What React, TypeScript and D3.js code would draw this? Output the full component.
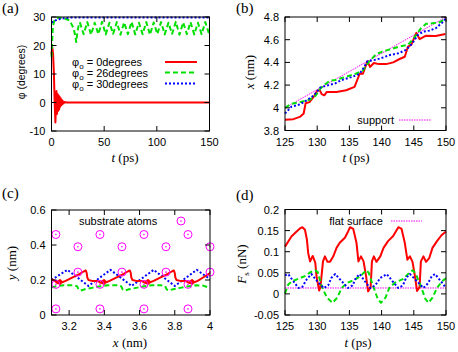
import React from 'react'
import * as d3 from 'd3'

type Pt = [number, number]

// ---- panel (a): tilt angle vs time
const aTicksX = [0, 50, 100, 150]
const aTicksY = [-10, 0, 10, 20, 30]
const aPhi0: Pt[] = [
  [0, 17], [0.7, 19.5], [1.5, 17], [2.3, 10], [3, 0], [3.7, -7], [4.2, -2], [4.7, 4], [5.2, -4],
  [5.7, 3], [6.2, -3], [6.7, 2.5], [7.2, -2.5], [7.7, 2], [8.2, -1.5], [8.7, 1.5], [9.2, -1],
  [9.7, 1], [10.2, -0.6], [10.7, 0.5], [11.5, -0.3], [12.5, 0.2], [14, 0], [150, 0]
]
const aPhi26: Pt[] = [
  [0, 16], [0.7, 22], [1.3, 26.5], [2.5, 28.5], [3.5, 29.2], [6, 29.8], [10, 29.6], [14, 29.3],
  [17, 28.8], [19, 27.5], [21, 26], [22.5, 23.5], [23.5, 21.2], [24.5, 24.5], [26, 27.5], [27, 28],
  [30.5, 24], [34, 28.2], [37.5, 23.8], [41, 28], [44.5, 24], [48, 28.3], [51.5, 23.9], [55, 28],
  [58.5, 24.1], [62, 28.2], [65.5, 23.8], [69, 28.1], [72.5, 24], [76, 28.3], [79.5, 23.9], [83, 28],
  [86.5, 24], [90, 28.2], [93.5, 23.8], [97, 28.1], [100.5, 24], [104, 28.2], [107.5, 23.9], [111, 28],
  [114.5, 24.1], [118, 28.3], [121.5, 23.8], [125, 28.1], [128.5, 24], [132, 28.2], [135.5, 23.9],
  [139, 28], [142.5, 24], [146, 28.2], [149.5, 24.2], [150, 25]
]
const aPhi30: Pt[] = [
  [0, 28], [1, 28.3], [3, 28.7], [5, 29], [8, 29.3], [12, 29.6], [18, 29.8], [150, 29.8]
]

// ---- panel (b): tip position vs time
const bTicksX = [125, 130, 135, 140, 145, 150]
const bTicksY = [3.8, 4, 4.2, 4.4, 4.6, 4.8]
const bSupport: Pt[] = [[125, 4.0], [150, 4.8]]
const bPhi0: Pt[] = [
  [125, 3.895], [126.3, 3.9], [127.3, 3.92], [127.9, 3.95], [128.2, 4.04], [128.8, 4.05],
  [129.5, 4.1], [130, 4.15], [130.4, 4.155], [130.7, 4.12], [131.1, 4.11], [131.5, 4.14],
  [133, 4.14], [134.5, 4.155], [135.8, 4.185], [136.6, 4.3], [137.1, 4.3], [137.8, 4.41],
  [138.2, 4.36], [138.8, 4.395], [139.6, 4.385], [140.7, 4.385], [141.8, 4.4], [142.8, 4.43],
  [143.6, 4.45], [144.1, 4.54], [144.6, 4.555], [145.4, 4.66], [145.9, 4.605], [146.4, 4.62],
  [146.9, 4.635], [148.4, 4.632], [149.9, 4.65]
]
const bPhi26: Pt[] = [
  [125, 4.0], [126, 4.035], [127.3, 4.05], [128.8, 4.07], [129.8, 4.11], [130.5, 4.17],
  [131.3, 4.21], [132, 4.24], [132.8, 4.245], [134.3, 4.27], [136, 4.3], [137.1, 4.33],
  [138.1, 4.41], [139.1, 4.47], [140.1, 4.495], [141.3, 4.515], [142.8, 4.54], [144.1, 4.555],
  [145.1, 4.62], [146.1, 4.7], [146.9, 4.74], [147.9, 4.745], [148.9, 4.75], [149.9, 4.785]
]
const bPhi30: Pt[] = [
  [125, 3.95], [126, 4.01], [127.3, 4.03], [128.5, 4.07], [129.5, 4.11], [130.5, 4.18],
  [131.8, 4.2], [132.8, 4.215], [133.8, 4.245], [135.3, 4.27], [136.6, 4.3], [137.3, 4.36],
  [137.8, 4.41], [138.8, 4.42], [139.8, 4.435], [141.3, 4.465], [142.6, 4.48], [143.8, 4.51],
  [144.8, 4.57], [145.6, 4.64], [146.4, 4.67], [147.4, 4.68], [148.4, 4.7], [149.4, 4.75], [150, 4.79]
]

// ---- panel (c): tip trajectory over the substrate
const cTicksX = [3.2, 3.4, 3.6, 3.8, 4]
const cTicksY = [0, 0.2, 0.4, 0.6]
const cAtoms: Pt[] = [
  [3.125, 0.035], [3.375, 0.035], [3.625, 0.035], [3.875, 0.035],
  [3.125, 0.175], [3.375, 0.175], [3.625, 0.175], [3.875, 0.175],
  [3.25, 0.245], [3.5, 0.245], [3.75, 0.245], [4.0, 0.245],
  [3.25, 0.39], [3.5, 0.39], [3.75, 0.39], [4.0, 0.39],
  [3.125, 0.46], [3.375, 0.46], [3.625, 0.46], [3.875, 0.46]
]
const cPhi0: Pt[] = [
  [3.1, 0.205], [3.12, 0.195], [3.135, 0.182], [3.15, 0.178], [3.158, 0.19], [3.148, 0.2], [3.135, 0.19],
  [3.15, 0.183], [3.18, 0.195], [3.22, 0.215], [3.26, 0.235], [3.285, 0.25], [3.295, 0.254], [3.3, 0.24],
  [3.303, 0.215], [3.31, 0.2], [3.33, 0.195], [3.36, 0.195],
  [3.385, 0.182], [3.4, 0.178], [3.408, 0.19], [3.398, 0.2], [3.385, 0.19], [3.4, 0.183], [3.43, 0.195],
  [3.47, 0.215], [3.51, 0.235], [3.535, 0.25], [3.545, 0.254], [3.55, 0.24], [3.553, 0.215], [3.56, 0.2],
  [3.58, 0.195], [3.61, 0.195],
  [3.635, 0.182], [3.65, 0.178], [3.658, 0.19], [3.648, 0.2], [3.635, 0.19], [3.65, 0.183], [3.68, 0.195],
  [3.72, 0.215], [3.76, 0.235], [3.785, 0.25], [3.795, 0.254], [3.8, 0.24], [3.803, 0.215], [3.81, 0.2],
  [3.83, 0.195], [3.86, 0.195],
  [3.885, 0.182], [3.9, 0.178], [3.908, 0.19], [3.898, 0.2], [3.885, 0.19], [3.9, 0.183], [3.93, 0.195],
  [3.97, 0.22], [4.0, 0.24]
]
const cPhi26: Pt[] = [
  [3.1, 0.157], [3.13, 0.165], [3.17, 0.17], [3.22, 0.17], [3.245, 0.165], [3.255, 0.145], [3.265, 0.14],
  [3.29, 0.147], [3.33, 0.155], [3.37, 0.163], [3.42, 0.17], [3.47, 0.17], [3.495, 0.165], [3.505, 0.145],
  [3.515, 0.14], [3.54, 0.147], [3.58, 0.155], [3.62, 0.163], [3.67, 0.17], [3.72, 0.17], [3.745, 0.165],
  [3.755, 0.145], [3.765, 0.14], [3.79, 0.147], [3.83, 0.155], [3.87, 0.163], [3.92, 0.17], [3.96, 0.168],
  [4.0, 0.155]
]
const cPhi30: Pt[] = [
  [3.1, 0.2], [3.19, 0.258], [3.31, 0.166], [3.435, 0.258], [3.555, 0.166], [3.68, 0.258],
  [3.8, 0.166], [3.925, 0.258], [4.0, 0.205]
]

// ---- panel (d): lateral force vs time
const dTicksX = [125, 130, 135, 140, 145, 150]
const dTicksY = [-0.05, 0, 0.05, 0.1, 0.15, 0.2]
const dFlat: Pt[] = [[125, 0.014], [150, 0.014]]
const dPhi0: Pt[] = [
  [125, 0.112], [126, 0.136], [126.8, 0.148], [127.4, 0.156], [127.7, 0.158], [128.1, 0.152],
  [128.4, 0.129], [128.6, 0.097], [128.9, 0.077], [129.3, 0.09], [129.7, 0.074], [129.9, 0.041],
  [130.3, 0.008], [130.5, 0.016], [130.9, 0.077], [131.2, 0.089], [131.6, 0.076], [132, 0.076],
  [132.5, 0.089], [133, 0.109], [133.5, 0.121], [134.3, 0.133], [134.8, 0.148], [135.1, 0.158],
  [135.6, 0.154], [136.1, 0.121], [136.4, 0.077], [136.8, 0.089], [137.2, 0.077], [137.6, 0.041],
  [137.9, 0.006], [138.3, 0.016], [138.5, 0.077], [138.8, 0.089], [139.2, 0.076], [139.8, 0.089],
  [140.3, 0.109], [141, 0.125], [141.8, 0.137], [142.3, 0.15], [142.6, 0.158], [143.1, 0.154],
  [143.6, 0.121], [144, 0.081], [144.4, 0.089], [144.8, 0.076], [145.2, 0.04], [145.5, 0.007],
  [145.9, 0.016], [146.1, 0.077], [146.5, 0.089], [146.9, 0.076], [147.4, 0.085], [147.9, 0.109],
  [148.6, 0.125], [149.3, 0.139], [150, 0.148]
]
const dPhi26: Pt[] = [
  [125, 0.001], [125.5, 0.022], [126.1, 0.03], [127.1, 0.036], [128.2, 0.043], [128.9, 0.051],
  [129.7, 0.056], [130.1, 0.051], [130.7, 0.018], [131.5, -0.009], [132.4, -0.021], [133.1, -0.009],
  [133.8, 0.014], [134.6, 0.026], [135.8, 0.033], [136.9, 0.045], [137.6, 0.056], [138, 0.05],
  [138.6, 0.022], [139.4, -0.012], [139.9, -0.021], [140.6, -0.009], [141.2, 0.014], [142, 0.026],
  [143.3, 0.035], [144.3, 0.05], [144.8, 0.056], [145.3, 0.048], [146.1, 0.018], [146.8, -0.012],
  [147.3, -0.021], [147.9, -0.009], [148.6, 0.014], [149.4, 0.03], [150, 0.037]
]
const dPhi30: Pt[] = [
  [125, 0.044], [125.5, 0.047], [126.3, 0.03], [127.1, 0.014], [127.7, 0.017], [128.4, 0.035],
  [129.1, 0.047], [130, 0.03], [131, 0.014], [131.7, 0.02], [132.2, 0.038], [132.8, 0.047],
  [133.8, 0.03], [134.8, 0.014], [135.5, 0.02], [136, 0.038], [136.6, 0.047], [137.4, 0.03],
  [138.2, 0.014], [139, 0.02], [139.8, 0.038], [140.8, 0.047], [141.7, 0.03], [142.6, 0.014],
  [143.3, 0.02], [143.8, 0.038], [144.4, 0.047], [145.5, 0.03], [146.5, 0.014], [147.2, 0.025],
  [147.8, 0.042], [148.3, 0.047], [149.2, 0.03], [150, 0.014]
]

const SANS = '"Liberation Sans", Arial, sans-serif'
const SERIF = '"Liberation Serif", "Times New Roman", serif'
const RED = '#ff0000'
const GREEN = '#00e000'
const BLUE = '#0000ff'
const MAGENTA = '#ff00ff'

type LineStyle = { stroke: string; width: number; dash?: string }
const sRed: LineStyle = { stroke: RED, width: 2 }
const sGreen: LineStyle = { stroke: GREEN, width: 2, dash: '5,3' }
const sBlue: LineStyle = { stroke: BLUE, width: 2, dash: '2,2' }
const sMag: LineStyle = { stroke: MAGENTA, width: 1, dash: '1.5,1' }

type Box = { l: number; r: number; t: number; b: number }

const Panel = ({ box, xDomain, yDomain, xTicks, yTicks, lines, extra }: {
  box: Box, xDomain: number[], yDomain: number[], xTicks: number[], yTicks: number[],
  lines: { data: Pt[], style: LineStyle }[],
  extra?: (x: d3.ScaleLinear<number, number>, y: d3.ScaleLinear<number, number>) => React.ReactNode
}) => {
  const x = d3.scaleLinear().domain(xDomain).range([box.l, box.r])
  const y = d3.scaleLinear().domain(yDomain).range([box.b, box.t])
  const line = d3.line<Pt>().x(d => x(d[0])).y(d => y(d[1]))
  const tl = 5
  return (
    <g>
      {lines.map((s, i) => (
        <path key={i} d={line(s.data) || ''} fill="none" stroke={s.style.stroke}
          strokeWidth={s.style.width} strokeDasharray={s.style.dash} strokeLinejoin="round" />
      ))}
      {extra && extra(x, y)}
      <rect x={box.l} y={box.t} width={box.r - box.l} height={box.b - box.t}
        fill="none" stroke="#000" strokeWidth={1} />
      {xTicks.map(v => (
        <g key={'x' + v}>
          <line x1={x(v)} x2={x(v)} y1={box.b} y2={box.b - tl} stroke="#000" />
          <line x1={x(v)} x2={x(v)} y1={box.t} y2={box.t + tl} stroke="#000" />
          <text x={x(v)} y={box.b + 15} textAnchor="middle" fontFamily={SANS} fontSize={11}>{String(v)}</text>
        </g>
      ))}
      {yTicks.map(v => (
        <g key={'y' + v}>
          <line x1={box.l} x2={box.l + tl} y1={y(v)} y2={y(v)} stroke="#000" />
          <line x1={box.r} x2={box.r - tl} y1={y(v)} y2={y(v)} stroke="#000" />
          <text x={box.l - 6} y={y(v) + 4} textAnchor="end" fontFamily={SANS} fontSize={11}>{String(v)}</text>
        </g>
      ))}
    </g>
  )
}

const Atom = ({ cx, cy }: { cx: number, cy: number }) => (
  <g>
    <circle cx={cx} cy={cy} r={4} fill="none" stroke={MAGENTA} strokeWidth={1} />
    <circle cx={cx} cy={cy} r={0.8} fill={MAGENTA} />
  </g>
)

const SampleLine = ({ x1, x2, y, style }: { x1: number, x2: number, y: number, style: LineStyle }) => (
  <line x1={x1} x2={x2} y1={y} y2={y} stroke={style.stroke} strokeWidth={style.width} strokeDasharray={style.dash} />
)

const Phi0Label = ({ x, y, deg }: { x: number, y: number, deg: string }) => (
  <text x={x} y={y} fontFamily={SANS} fontSize={11}>
    φ<tspan fontSize={8} dy={3}>o</tspan><tspan dy={-3}>{' = ' + deg + 'degrees'}</tspan>
  </text>
)

export default function App() {
  const A: Box = { l: 51.5, r: 209.5, t: 17, b: 131 }
  const B: Box = { l: 285, r: 446, t: 17, b: 130.5 }
  const C: Box = { l: 51.5, r: 210, t: 210, b: 315 }
  const D: Box = { l: 285, r: 446, t: 209.5, b: 315 }
  const legends = [
    { deg: '0', style: sRed, y: 62 },
    { deg: '26', style: sGreen, y: 72.5 },
    { deg: '30', style: sBlue, y: 83.5 }
  ]
  return (
    <svg width={458} height={352} style={{ position: 'absolute', left: 0, top: 0, background: '#fff' }}>
      <rect width={458} height={352} fill="#fff" />

      {/* (a) */}
      <Panel box={A} xDomain={[0, 150]} yDomain={[-10, 30]} xTicks={aTicksX} yTicks={aTicksY}
        lines={[{ data: aPhi0, style: sRed }, { data: aPhi26, style: sGreen }, { data: aPhi30, style: sBlue }]}
        extra={() => legends.map(l => (
          <g key={l.deg}>
            <Phi0Label x={72} y={l.y + 4} deg={l.deg} />
            <SampleLine x1={165} x2={197} y={l.y} style={l.style} />
          </g>
        ))} />
      <text x={2} y={13} fontFamily={SERIF} fontSize={15}>(a)</text>
      <text x={125} y={162} textAnchor="middle" fontFamily={SERIF} fontSize={13}>
        <tspan fontStyle="italic">t</tspan> (ps)
      </text>
      <text transform="translate(25,72) rotate(-90)" textAnchor="middle" fontFamily={SANS} fontSize={10.5}>φ (degrees)</text>

      {/* (b) */}
      <Panel box={B} xDomain={[125, 150]} yDomain={[3.8, 4.8]} xTicks={bTicksX} yTicks={bTicksY}
        lines={[{ data: bSupport, style: sMag }, { data: bPhi0, style: sRed },
          { data: bPhi26, style: sGreen }, { data: bPhi30, style: sBlue }]}
        extra={() => (
          <g>
            <text x={394} y={124} textAnchor="end" fontFamily={SANS} fontSize={11}>support</text>
            <SampleLine x1={399} x2={431} y={120} style={sMag} />
          </g>
        )} />
      <text x={236} y={13} fontFamily={SERIF} fontSize={15}>(b)</text>
      <text x={356} y={162} textAnchor="middle" fontFamily={SERIF} fontSize={13}>
        <tspan fontStyle="italic">t</tspan> (ps)
      </text>
      <text transform="translate(254,72) rotate(-90)" textAnchor="middle" fontFamily={SERIF} fontSize={13}>
        <tspan fontStyle="italic">x</tspan> (nm)
      </text>

      {/* (c) */}
      <Panel box={C} xDomain={[3.1, 4]} yDomain={[0, 0.6]} xTicks={cTicksX} yTicks={cTicksY}
        lines={[{ data: cPhi26, style: sGreen }, { data: cPhi30, style: sBlue }, { data: cPhi0, style: sRed }]}
        extra={(x, y) => (
          <g>
            {cAtoms.map((p, i) => <Atom key={i} cx={x(p[0])} cy={y(p[1])} />)}
            <text x={79} y={225} fontFamily={SANS} fontSize={11}>substrate atoms</text>
            <Atom cx={181} cy={221} />
          </g>
        )} />
      <text x={2} y={198} fontFamily={SERIF} fontSize={15}>(c)</text>
      <text x={130} y={347} textAnchor="middle" fontFamily={SERIF} fontSize={13}>
        <tspan fontStyle="italic">x</tspan> (nm)
      </text>
      <text transform="translate(16,263) rotate(-90)" textAnchor="middle" fontFamily={SERIF} fontSize={13}>
        <tspan fontStyle="italic">y</tspan> (nm)
      </text>

      {/* (d) */}
      <Panel box={D} xDomain={[125, 150]} yDomain={[-0.05, 0.2]} xTicks={dTicksX} yTicks={dTicksY}
        lines={[{ data: dFlat, style: sMag }, { data: dPhi0, style: sRed },
          { data: dPhi26, style: sGreen }, { data: dPhi30, style: sBlue }]}
        extra={() => (
          <g>
            <text x={383} y={225} textAnchor="end" fontFamily={SANS} fontSize={11}>flat surface</text>
            <SampleLine x1={391} x2={422} y={221} style={sMag} />
          </g>
        )} />
      <text x={236} y={200} fontFamily={SERIF} fontSize={15}>(d)</text>
      <text x={358} y={347} textAnchor="middle" fontFamily={SERIF} fontSize={13}>
        <tspan fontStyle="italic">t</tspan> (ps)
      </text>
      <text transform="translate(246,264) rotate(-90)" textAnchor="middle" fontFamily={SERIF} fontSize={13}>
        <tspan fontStyle="italic">F</tspan><tspan fontSize={9} dy={3}>s</tspan><tspan dy={-3}> (nN)</tspan>
      </text>
    </svg>
  )
}
